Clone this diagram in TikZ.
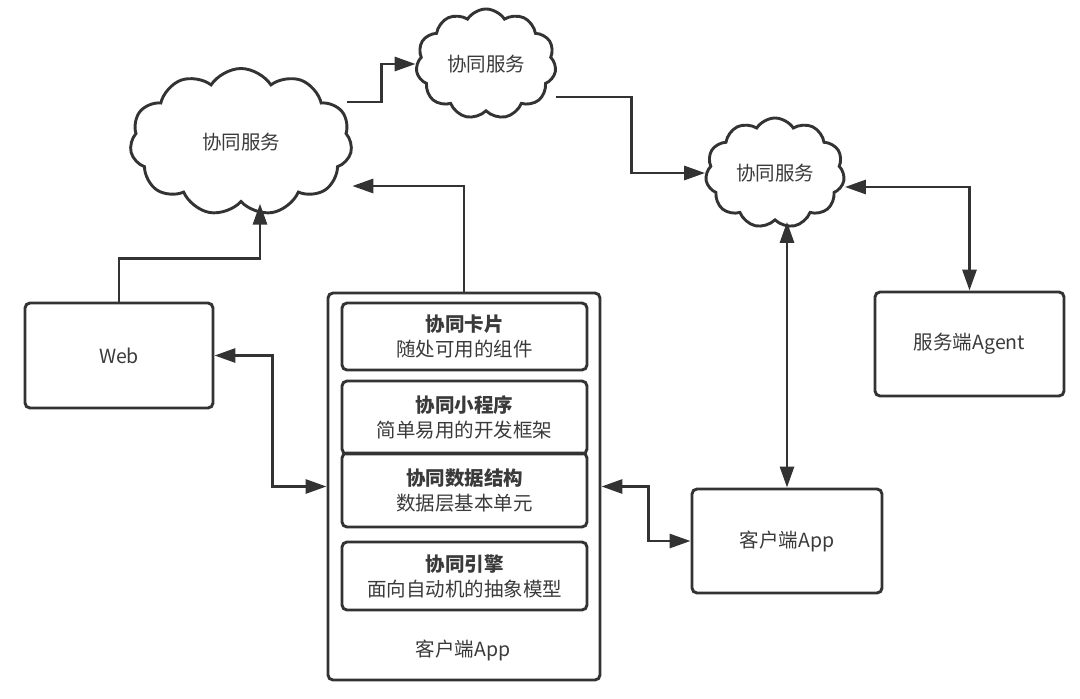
\documentclass[tikz,border=0pt]{standalone}
\usepackage{fontspec}
\setmainfont{Noto Sans CJK SC}
\usetikzlibrary{arrows.meta,shapes.symbols}
\definecolor{lineGray}{HTML}{333333}
\definecolor{textGray}{HTML}{3A3A3A}

\begin{document}
\begin{tikzpicture}
[x=1pt,y=-1pt,%
  darkArrow/.style={-{Triangle[length=21pt,width=14pt]},line width=2.9pt,color=lineGray},%
  darkBoth/.style={{Triangle[length=21pt,width=14pt]}-{Triangle[length=21pt,width=14pt]},line width=2.9pt,color=lineGray},%
  cloudDecorate/.style={shape=cloud,cloud puffs=11,cloud puff arc=115,cloud ignores aspect,draw=lineGray,line width=2.9pt,fill=white,inner sep=0pt},%
  boxDecorate/.style={shape=rectangle,rounded corners=5pt,draw=lineGray,line width=2.9pt,inner sep=0pt},%
  every node/.style={text=textGray,font=\fontsize{19.5}{25}\selectfont}]
\useasboundingbox (0,0) rectangle (1080,699);
%% clouds
\foreach \nodename/\x/\y/\w/\h in {cloudL/241/142/222/147, cloudM/486/64/140/110, cloudR/775/173/139/110}
{
  \node (\nodename) at (\x,\y) [cloudDecorate,minimum width=\w pt,minimum height=\h pt] {协同服务};
}
%% boxes
\foreach \nodename/\x/\y/\w/\h/\txt in {web/119/355.5/188/105/Web, agent/969.5/344/189/104/服务端Agent, client/787/541/190/104/客户端App, app/464/486.5/272/387/}
{
  \node (\nodename) at (\x,\y) [boxDecorate,minimum width=\w pt,minimum height=\h pt] {\txt};
}
\node (appLabel) at (463,650) {客户端App};
%% layers inside the app
\foreach \nodename/\y/\h/\title/\sub in {card/336.5/67/协同卡片/随处可用的组件, mini/417.5/73/协同小程序/简单易用的开发框架, data/490/74/协同数据结构/数据层基本单元, engine/576/68/协同引擎/面向自动机的抽象模型}
{
  \node (\nodename) at (464.5,\y) [boxDecorate,minimum width=245pt,minimum height=\h pt,align=center] {{\bfseries\title}\\\sub};
}
%% one-way edges
\draw[darkArrow] (web.north) -- ++(0,-43) -| ([xshift=19pt]cloudL.south);
\draw[darkArrow] (app.north) |- ([yshift=-44pt]cloudL.east);
\draw[darkArrow] ([xshift=-5pt,yshift=40pt]cloudL.east) -- ++(34,0) |- (cloudM.west);
\draw[darkArrow] ([yshift=-33pt]cloudM.east) -- ++(75,0) |- (cloudR.west);
%% two-way edges
\draw[darkBoth] ([yshift=-14pt]cloudR.east) -| (agent.north);
\draw[darkBoth] (client.north |- cloudR.south) -- (client.north);
\draw[darkBoth] (web.east) -- ++(58,0) |- (app.west);
\draw[darkBoth] (app.east) -- ++(47,0) |- (client.west);
\end{tikzpicture}
\end{document}
